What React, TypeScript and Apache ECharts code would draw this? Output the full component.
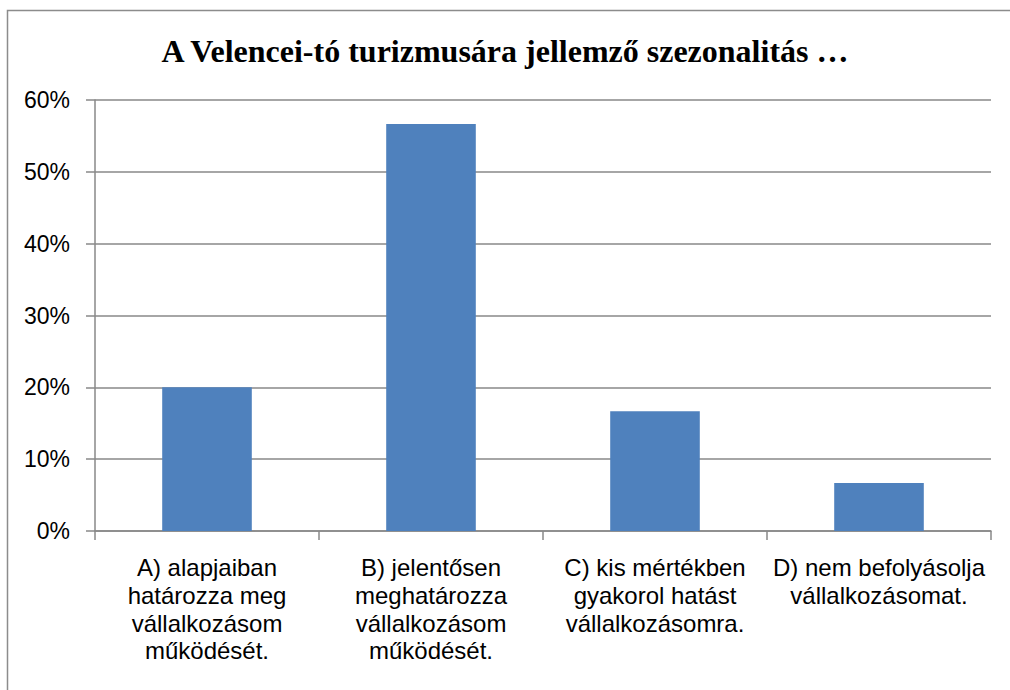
import React, { useEffect, useRef } from "react";
import * as echarts from "echarts";

const TITLE = "A Velencei-tó turizmusára jellemző szezonalitás …";
const CATEGORIES = [
  "A) alapjaiban\nhatározza meg\nvállalkozásom\nműködését.",
  "B) jelentősen\nmeghatározza\nvállalkozásom\nműködését.",
  "C) kis mértékben\ngyakorol hatást\nvállalkozásomra.",
  "D) nem befolyásolja\nvállalkozásomat.",
];
const VALUES = [0.2, 0.5667, 0.1667, 0.0667];
const Y_MIN = 0;
const Y_MAX = 0.6;
const Y_STEP = 0.1;

export default function App() {
  const ref = useRef<HTMLDivElement>(null);
  useEffect(() => {
    if (!ref.current) return;
    const chart = echarts.init(ref.current, null, { renderer: "svg" });
    chart.setOption({
      animation: false,
      backgroundColor: "#ffffff",
      title: {
        text: TITLE,
        left: "center",
        top: 30,
        textStyle: {
          fontFamily: "Liberation Serif",
          fontWeight: "bold",
          fontSize: 32,
          color: "#000",
        },
      },
      graphic: [
        {
          type: "rect",
          shape: { x: 7.5, y: 10.5, width: 1010, height: 690 },
          style: { fill: "none", stroke: "#8c8c8c", lineWidth: 1.5 },
          silent: true,
        },
      ],
      grid: { left: 95, right: 19, top: 100, bottom: 159 },
      xAxis: {
        type: "category",
        data: CATEGORIES,
        axisLine: { show: true, lineStyle: { color: "#888", width: 1.5 } },
        axisTick: { show: true, length: 9, alignWithLabel: false, interval: 0, lineStyle: { color: "#888", width: 1.5 } },
        axisLabel: {
          interval: 0,
          margin: 23,
          fontFamily: "Liberation Sans",
          fontSize: 24,
          lineHeight: 27.7,
          color: "#000",
          align: "center",
        },
      },
      yAxis: {
        type: "value",
        min: Y_MIN,
        max: Y_MAX,
        interval: Y_STEP,
        axisLine: { show: true, lineStyle: { color: "#888", width: 1.5 } },
        axisTick: { show: true, length: 9, lineStyle: { color: "#888", width: 1.5 } },
        splitLine: { show: true, lineStyle: { color: "#888", width: 1.5 } },
        axisLabel: {
          margin: 25,
          fontFamily: "Liberation Sans",
          fontSize: 23,
          color: "#000",
          formatter: (v: number) => `${Math.round(v * 100)}%`,
        },
      },
      series: [
        {
          type: "bar",
          data: VALUES,
          barWidth: "40%",
          itemStyle: { color: "#4F81BD" },
        },
      ],
    });
    return () => chart.dispose();
  }, []);
  return (
    <div
      ref={ref}
      style={{ position: "absolute", left: 0, top: 0, width: 1010, height: 690 }}
    />
  );
}
